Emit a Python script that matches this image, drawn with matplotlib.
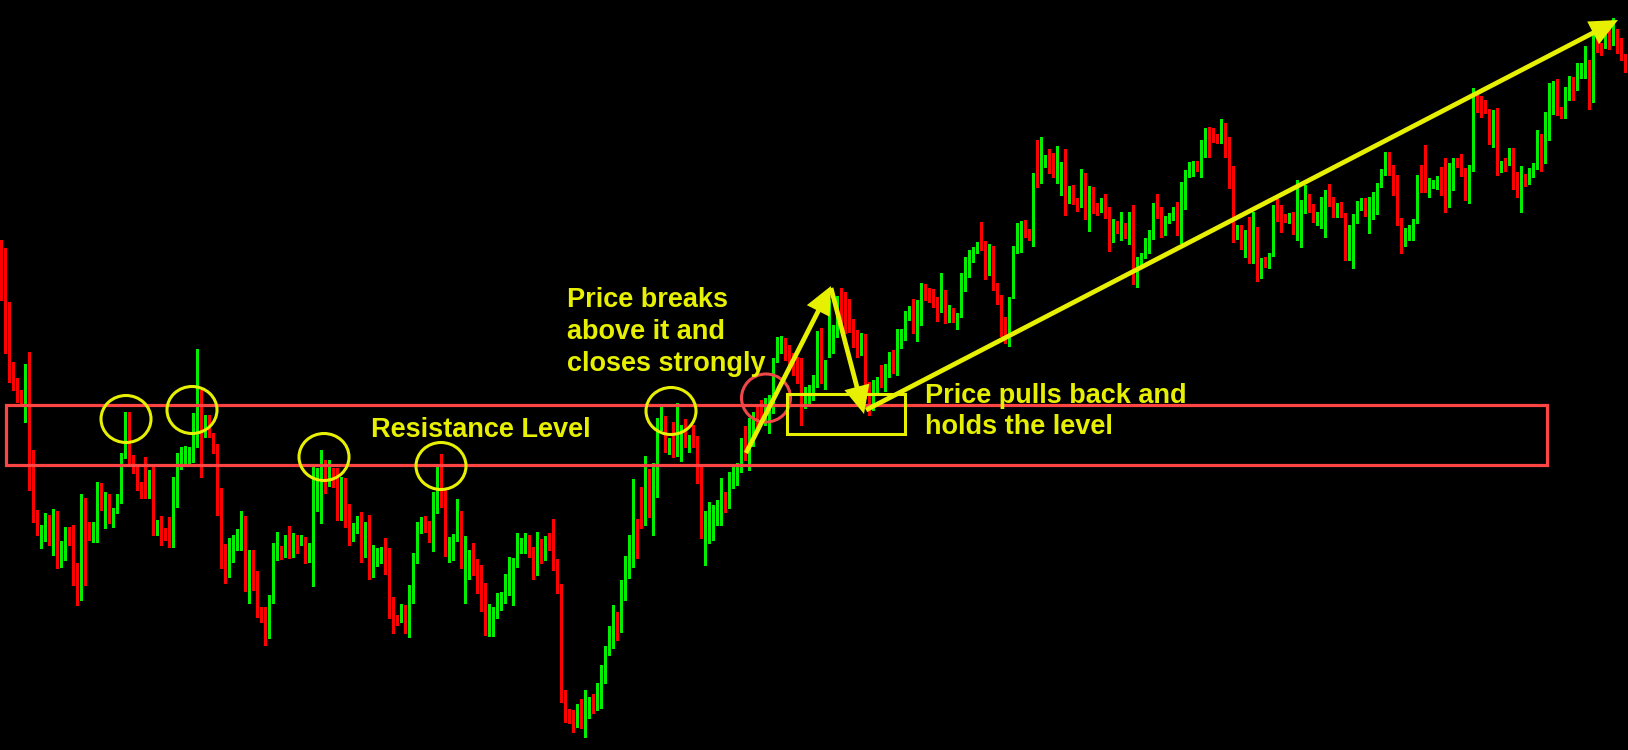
import matplotlib
matplotlib.use("Agg")
import matplotlib.pyplot as plt
import numpy as np
from matplotlib.patches import Rectangle, Ellipse, FancyArrowPatch

# ---------------- data (price units) ----------------
opens = [
507,463,427,380,363,358,353,381,283,238, 207,212,233,207,218,187,192,220,217,182,
160,247,217,215,220,265,245,247,235,238, 249,293,337,295,278,268,262,259,270,217,
234,217,215,208,250,288,291,293,298,333, 352,323,328,315,301,257,188,180,204,209,
214,223,166,191,173,137,134,128,151,193, 200,193,212,194,208,206,212,198,201,253,
260,283,267,278,265,241,264,237,215,224, 228,202,206,175,187,191,197,197,148,133,
138,145,125,154,193,226,225,221,209,238, 279,260,194,204,210,233,183,196,197,185,
167,155,117,121,133,145,147,164,183,184, 202,205,207,201,185,211,198,209,207,187,
161,52,37,35,28,38,29,37,43,41, 55,67,102,114,130,120,158,178,192,227,
252,225,269,239,256,323,331,302,309,305, 313,318,305,313,307,272,217,222,222,232,
239,250,244,264,269,280,309,298,310,340, 340,332,337,337,391,398,407,400,394,388,
380,352,353,358,367,411,373,398,400,417, 447,439,438,427,417,397,414,355,352,366,
371,368,375,395,375,412,415,433,438,423, 437,463,458,457,450,446,453,433,437,429,
435,471,490,497,497,508,504,481,502,466, 450,432,415,453,497,505,519,518,517,572,
567,587,595,580,579,581,584,553,559,550, 547,566,535,561,543,540,549,543,523,524,
522,523,513,533,468,487,494,507,511,538, 535,516,531,533,540,523,547,578,580,586,
583,608,618,616,610,608,627,595,581,513, 524,502,519,488,517,473,490,487,495,541,
534,534,531,535,524,538,542,553,544,531, 533,544,554,550,543,544,536,508,519,533,
544,549,538,551,553,564,578,590,577,571, 530,508,516,517,529,575,570,564,564,567,
571,570,549,563,589,588,578,554,581,654, 649,641,640,606,639,586,590,585,589,568,
557,575,567,577,582,610,589,611,644,662, 640,634,653,670,663,680,681,682,648,714,
706,703,720,707,714,708,690,682]

highs = [
510,502,448,388,372,360,386,398,300,240, 225,237,235,241,239,209,223,223,225,187,
256,252,228,228,268,267,258,256,242,256, 297,338,338,295,283,268,293,280,285,230,
234,222,233,273,297,303,304,303,337,401, 360,335,335,317,306,262,206,212,215,221,
239,234,200,200,179,143,143,155,207,218, 204,215,224,217,215,215,213,207,283,282,
300,290,290,282,282,273,272,246,227,234, 238,228,235,205,202,203,212,202,153,135,
146,145,165,197,228,233,234,229,258,283, 296,262,213,216,251,239,214,200,207,191,
185,167,146,143,157,158,176,193,192,217, 212,217,215,203,218,211,214,217,231,191,
166,60,41,40,46,51,60,53,56,67, 85,104,124,145,138,170,194,215,271,231,
263,294,281,287,332,343,334,312,328,347, 325,331,315,325,314,283,239,248,245,250,
272,258,278,283,287,312,324,332,338,346, 350,352,355,392,413,414,412,405,397,393,
392,363,365,375,419,422,390,450,425,454, 462,458,451,431,420,417,416,368,370,373,
385,386,398,400,421,421,439,444,451,450, 467,466,462,461,453,477,460,445,442,437,
477,493,500,503,508,528,509,506,504,467, 455,433,453,504,527,529,530,521,577,610,
613,595,601,597,604,588,601,564,565,552, 581,577,564,563,547,552,556,543,531,529,
538,527,538,545,493,497,512,520,547,556, 543,534,537,543,548,568,580,588,589,589,
610,622,623,622,616,631,627,613,584,525, 525,520,533,538,523,492,493,497,545,551,
545,536,537,538,570,550,565,556,546,538, 553,560,566,553,547,548,537,525,536,549,
552,552,553,558,567,581,598,598,585,575, 532,522,525,531,575,585,605,572,570,574,
583,592,587,592,592,596,582,585,662,655, 654,650,641,640,642,589,592,602,602,578,
584,576,582,587,620,616,638,667,669,671, 643,663,674,673,687,687,704,690,722,717,
707,722,723,732,721,712,696,690]

lows = [
450,397,368,360,348,347,328,260,228,215, 202,209,205,195,182,183,190,205,165,145,
150,165,210,208,208,240,222,227,223,237, 247,292,287,277,260,252,252,252,215,215,
205,210,203,203,243,281,287,287,288,303, 273,313,313,297,235,182,167,173,188,200,
200,159,147,160,133,128,105,112,147,190, 191,193,192,193,197,205,187,188,164,239,
227,257,264,263,230,230,223,205,209,217, 188,193,171,173,184,187,176,132,117,125,
128,117,113,147,187,217,218,208,199,237, 243,194,188,190,209,182,147,171,175,157,
139,115,114,114,132,140,147,155,145,183, 197,197,193,171,175,187,190,200,180,157,
48,28,27,18,23,22,13,32,37,40, 42,67,95,102,110,118,150,172,183,192,
222,225,233,215,253,320,298,296,293,294, 289,303,298,303,267,212,185,207,210,225,
225,238,242,262,265,278,290,280,304,320, 326,325,317,337,388,397,390,380,375,367,
325,342,347,350,363,367,361,393,397,413, 427,417,418,403,393,395,352,335,340,358,
363,359,373,377,375,402,410,430,417,409, 425,450,448,443,429,438,427,428,428,421,
433,459,473,488,497,500,471,475,460,446, 414,407,404,452,497,498,513,510,504,563,
567,583,577,573,567,555,535,547,546,539, 543,531,519,537,535,538,532,499,508,517,
510,512,506,466,463,486,492,497,511,532, 513,515,527,530,515,507,541,573,574,579,
573,593,593,608,607,607,593,562,508,511, 501,493,487,487,469,472,483,482,494,529,
518,528,527,516,510,503,537,538,528,525, 522,513,544,533,533,533,490,490,482,527,
540,534,517,531,536,563,575,575,555,525, 497,504,510,510,527,558,558,553,562,561,
555,538,543,560,583,574,550,547,579,638, 633,637,606,603,575,578,579,585,561,553,
538,564,566,573,581,579,587,610,636,635, 632,632,650,650,660,672,672,641,648,698,
695,702,701,705,697,690,678,680]

closes = [
452,427,378,363,357,353,381,283,238,218, 212,233,207,218,187,192,220,217,180,160,
247,217,215,221,264,245,247,235,239,250, 294,337,294,278,267,260,259,270,217,225,
217,214,208,250,288,293,294,299,333,351, 317,330,315,300,257,188,180,205,210,215,
223,166,191,172,137,133,128,152,193,211, 192,212,194,208,206,212,198,202,253,260,
283,267,278,265,241,264,237,215,223,227, 202,206,175,187,192,196,195,147,132,127,
146,126,155,193,226,229,220,210,239,279, 260,194,205,211,234,183,197,199,184,166,
154,117,122,134,146,148,165,184,185,214, 207,207,200,185,211,198,209,207,186,160,
51,32,35,28,37,29,37,47,41,56, 68,103,115,130,120,160,180,192,227,193,
225,269,240,257,332,329,302,309,305,313, 318,305,313,306,271,217,223,223,233,239,
250,244,264,269,282,309,298,330,332,330, 332,347,345,392,400,407,398,393,383,373,
348,360,359,367,410,373,381,400,417,453, 438,437,425,417,397,414,353,352,367,369,
368,375,395,378,412,416,434,438,422,438, 463,457,457,450,446,453,433,440,429,436,
472,491,497,498,508,504,481,502,465,450, 431,415,453,498,506,524,517,517,572,567,
588,593,579,578,582,584,553,559,548,547, 566,535,561,539,539,548,542,523,524,523,
523,513,533,467,488,495,508,512,539,535, 516,532,534,540,523,548,579,581,586,582,
609,618,615,611,608,626,594,580,513,521, 502,519,490,517,473,490,487,496,542,533,
533,531,535,524,539,543,553,540,531,535, 545,554,549,544,544,535,508,521,534,546,
549,538,552,554,565,579,590,576,570,529, 508,519,518,530,575,568,565,567,568,571,
568,549,564,591,587,577,554,582,654,648, 640,639,606,639,585,587,585,589,567,557,
574,565,577,582,610,588,612,645,661,638, 634,653,672,653,682,682,682,649,720,700,
704,718,707,714,707,690,682,686]

label_break = ["Price breaks", "above it and", "closes strongly"]
label_resistance = "Resistance Level"
label_pullback = ["Price pulls back and", "holds the level"]

# ---------------- figure ----------------
W, H = 1628, 750
fig = plt.figure(figsize=(W / 100, H / 100), dpi=100, facecolor="black")
ax = fig.add_axes([0, 0, 1, 1])
ax.set_facecolor("black")
ax.set_axis_off()
n = len(closes)
ax.set_xlim(-0.25, 406.75)
ax.set_ylim(0, 750)

o = np.array(opens, float)
c = np.array(closes, float)
hi = np.maximum(np.array(highs, float), np.maximum(o, c))
lo = np.minimum(np.array(lows, float), np.minimum(o, c))
idx = np.arange(n)
GREEN, RED = "#00f000", "#ff0000"
cols = [GREEN if cc >= oo else RED for oo, cc in zip(o, c)]

ax.vlines(idx, lo, hi, colors=cols, linewidth=0.75, zorder=2, antialiased=False)
bottom = np.minimum(o, c)
height = np.maximum(np.abs(c - o), 1.5)
ax.bar(idx, height, bottom=bottom, width=0.7, color=cols, linewidth=0,
       zorder=2, antialiased=False)

# helper: pixel position (from top-left) -> data coords, for annotations
def P(x, y):
    return ((x - 1) / 4.0, 750 - y)

YEL = "#e6f000"
RLINE = "#ff4444"

# resistance zone
x0, y0 = P(6, 465)
ax.add_patch(Rectangle((x0, y0), (1547 - 6) / 4.0, 60, fill=False,
                       edgecolor=RLINE, linewidth=2.3, zorder=3))

# yellow circles
for (cx, cy) in [(126, 419), (192, 410), (324, 457), (441, 466), (671, 411)]:
    ax.add_patch(Ellipse(P(cx, cy), 50 / 4.0, 47, fill=False,
                         edgecolor=YEL, linewidth=2.2, zorder=3))
# red circle at breakout
ax.add_patch(Ellipse(P(766, 398), 49 / 4.0, 48, fill=False,
                     edgecolor="#f04848", linewidth=2.2, zorder=3))

# yellow retest box
bx, by = P(787, 434)
ax.add_patch(Rectangle((bx, by), (905 - 787) / 4.0, 40, fill=False,
                       edgecolor=YEL, linewidth=2.2, zorder=3))

# arrows
def arrow(a, b):
    ax.add_patch(FancyArrowPatch(P(*a), P(*b),
                                 arrowstyle="-|>,head_length=1.2,head_width=0.55",
                                 mutation_scale=12, color=YEL, linewidth=3.4,
                                 shrinkA=0, shrinkB=0, zorder=4,
                                 joinstyle="miter", capstyle="butt"))

arrow((746, 453), (831, 286))
arrow((831, 288), (864, 414))
arrow((866, 410), (1618, 20))

# texts
tkw = dict(color=YEL, fontsize=19.5, fontweight="bold", family="Liberation Sans",
           ha="left", va="baseline", zorder=5)
for i, line in enumerate(label_break):
    ax.text(*P(567, 307 + 32 * i), line, **tkw)
ax.text(*P(371, 437), label_resistance, **tkw)
for i, line in enumerate(label_pullback):
    ax.text(*P(925, 403 + 31 * i), line, **tkw)

fig.savefig("out.png", dpi=100, facecolor="black")
